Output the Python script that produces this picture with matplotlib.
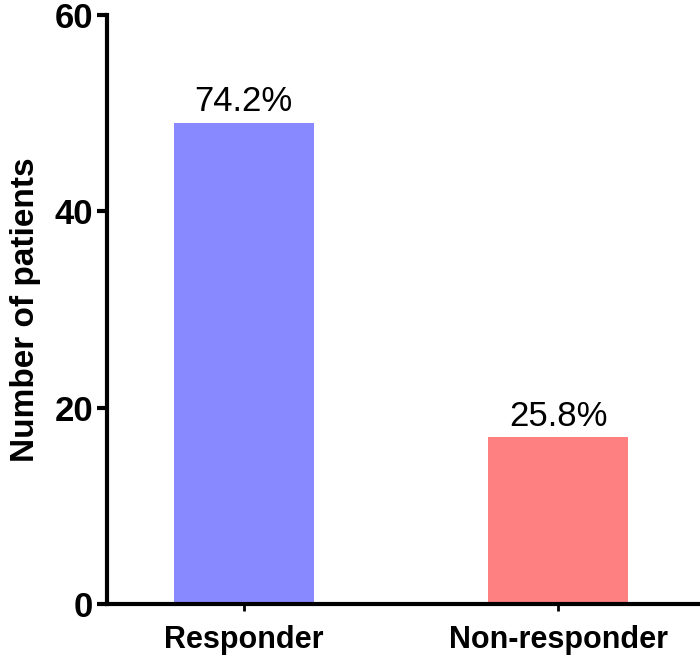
import matplotlib
matplotlib.use("Agg")
import matplotlib.pyplot as plt

# data
groups = ["Responder", "Non-responder"]
counts = [49, 17]
percent_labels = ["74.2%", "25.8%"]
bar_colors = ["#8888FF", "#FF8080"]

plt.rcParams['font.family'] = ['Liberation Sans', 'DejaVu Sans']

fig = plt.figure(figsize=(7.0, 6.63), dpi=100)
ax = fig.add_axes([0.153, 0.089, 0.844, 0.889])

x = [0, 1]
bars = ax.bar(x, counts, width=0.445, color=bar_colors, edgecolor='none')

# percentage labels above bars
for b, lab in zip(bars, percent_labels):
    ax.annotate(lab, (b.get_x() + b.get_width() / 2, b.get_height()),
                xytext=(0, 3), textcoords='offset points',
                ha='center', va='bottom', fontsize=25)

ax.set_xlim(-0.435, 1.445)
ax.set_ylim(0, 60)
ax.set_yticks([0, 20, 40, 60])
ax.set_xticks(x)
ax.set_xticklabels(groups, fontsize=22, fontweight='bold')
ax.set_ylabel("Number of patients", fontsize=24, fontweight='bold', labelpad=10)

for lab in ax.get_yticklabels():
    lab.set_fontsize(25)
    lab.set_fontweight('bold')

ax.spines['top'].set_visible(False)
ax.spines['right'].set_visible(False)
ax.spines['left'].set_linewidth(3)
ax.spines['bottom'].set_linewidth(3)
ax.tick_params(axis='y', width=3, length=7, pad=3)
ax.tick_params(axis='x', width=2, length=5, pad=10)

fig.savefig("out.png", dpi=100)
